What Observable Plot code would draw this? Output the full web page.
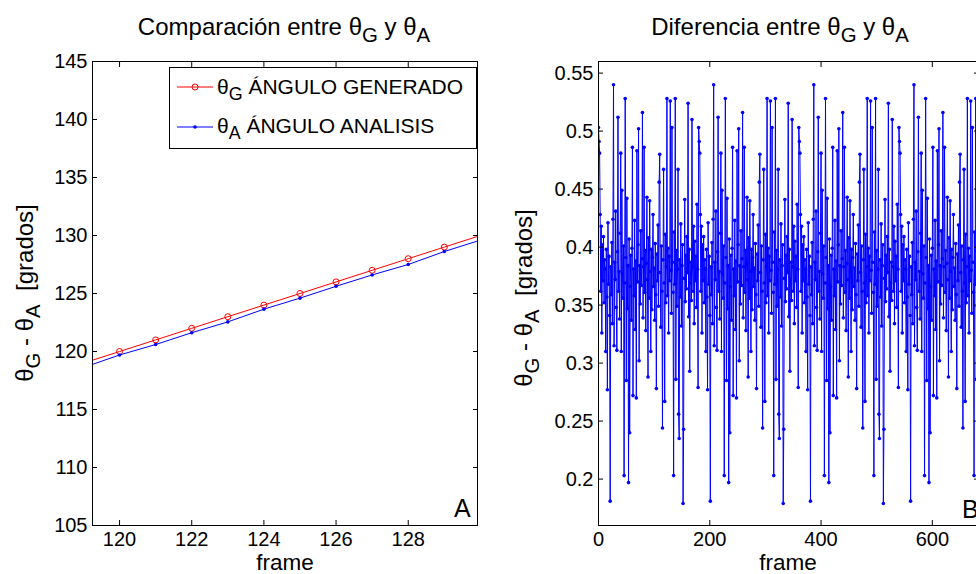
<!DOCTYPE html>
<html><head><meta charset="utf-8">
<script src="https://cdn.jsdelivr.net/npm/d3@7"></script>
<script src="https://cdn.jsdelivr.net/npm/@observablehq/plot@0.6"></script>
<style>
html,body{margin:0;padding:0;background:#fff;overflow:hidden;}
#wrap{position:relative;width:976px;height:574px;overflow:hidden;background:#fff;}
#wrap svg{position:absolute;top:0;}
</style></head><body><div id="wrap"></div>
<script>
const FONT = '"Liberation Sans", Arial, Helvetica, sans-serif';

// ---- Panel A data ----
const framesA = [119,120,121,122,123,124,125,126,127,128,129,130];
const thetaG  = [119,120,121,122,123,124,125,126,127,128,129,130];
const thetaA  = [118.62,119.70,120.60,121.62,122.55,123.65,124.60,125.62,126.60,127.50,128.62,129.60];
const xTicksA = [120,122,124,126,128];
const yTicksA = [105,110,115,120,125,130,135,140,145];

// ---- Panel B data (difference per frame, frames 0..683) ----
const diffBlock1 = [
0.503,0.491,0.481,0.428,0.362,0.418,0.326,0.402,0.371,0.409,
0.352,0.389,0.381,0.310,0.398,0.357,0.277,0.421,0.368,0.392,
0.341,0.181,0.383,0.359,0.404,0.334,0.424,0.540,0.315,0.387,
0.372,0.431,0.348,0.311,0.396,0.512,0.362,0.379,0.338,0.412,
0.481,0.310,0.449,0.377,0.356,0.401,0.203,0.369,0.528,0.391,
0.285,0.442,0.347,0.384,0.197,0.407,0.240,0.366,0.393,0.337,
0.399,0.486,0.272,0.381,0.358,0.423,0.329,0.388,0.270,0.483,
0.370,0.402,0.502,0.302,0.384,0.351,0.414,0.367,0.390,0.516,
0.339,0.383,0.486,0.361,0.397,0.328,0.386,0.443,0.372,0.288,
0.408,0.356,0.440,0.379,0.310,0.398,0.346,0.391,0.428,0.366,
0.382,0.337,0.403,0.359,0.278,0.394,0.371,0.419,0.349,0.456,
0.480,0.378,0.331,0.401,0.362,0.244,0.389,0.467,0.369,0.267,
0.411,0.352,0.383,0.528,0.358,0.399,0.326,0.392,0.371,0.526,
0.380,0.343,0.503,0.387,0.361,0.203,0.413,0.368,0.528,0.286,
0.397,0.349,0.381,0.467,0.256,0.235,0.389,0.357,0.420,0.332,
0.384,0.402,0.179,0.243,0.373,0.441,0.353,0.393,0.364,0.409,
0.378,0.524,0.340,0.398,0.293,0.369,0.387,0.354,0.510,0.383,
0.362,0.418,0.334,0.405,0.371,0.392,0.348,0.437,0.381,0.279];
const diffBlock2 = [
0.503,0.491,0.481,0.428,0.362,0.418,0.326,0.402,0.371,0.409,
0.352,0.389,0.381,0.310,0.398,0.357,0.277,0.421,0.368,0.392,
0.341,0.181,0.383,0.359,0.404,0.334,0.424,0.540,0.315,0.387,
0.372,0.431,0.348,0.311,0.396,0.512,0.362,0.379,0.338,0.412,
0.481,0.310,0.449,0.377,0.356,0.401,0.203,0.369,0.528,0.391,
0.285,0.442,0.347,0.384,0.197,0.407,0.240,0.366,0.393,0.337,
0.399,0.486,0.272,0.381,0.358,0.423,0.329,0.388,0.270,0.483,
0.370,0.402,0.502,0.302,0.384,0.351,0.414,0.367,0.390,0.516,
0.339,0.383,0.486,0.361,0.397,0.328,0.386,0.443,0.372,0.288,
0.408,0.356,0.440,0.379,0.310,0.398,0.346,0.391,0.428,0.366,
0.382,0.337,0.403,0.359,0.278,0.394,0.371,0.419,0.349,0.456,
0.480,0.378,0.331,0.401,0.362,0.244,0.389,0.467,0.369,0.267,
0.411,0.352,0.383,0.528,0.358,0.399,0.326,0.392,0.371,0.526,
0.380,0.343,0.503,0.387,0.361,0.203,0.413,0.368,0.528,0.286,
0.397,0.349,0.381,0.467,0.256,0.235,0.389,0.357,0.420,0.332,
0.384,0.402,0.179,0.243,0.373,0.441,0.353,0.393,0.364,0.409,
0.378,0.524,0.340,0.398,0.293,0.369,0.387,0.354,0.510,0.383,
0.362,0.418,0.334,0.405,0.371,0.392,0.348,0.437,0.381,0.279];
const diffBlock3 = [
0.503,0.491,0.481,0.428,0.362,0.418,0.326,0.402,0.371,0.409,
0.352,0.389,0.381,0.310,0.398,0.357,0.277,0.421,0.368,0.392,
0.341,0.181,0.383,0.359,0.404,0.334,0.424,0.540,0.315,0.387,
0.372,0.431,0.348,0.311,0.396,0.512,0.362,0.379,0.338,0.412,
0.481,0.310,0.449,0.377,0.356,0.401,0.203,0.369,0.528,0.391,
0.285,0.442,0.347,0.384,0.197,0.407,0.240,0.366,0.393,0.337,
0.399,0.486,0.272,0.381,0.358,0.423,0.329,0.388,0.270,0.483,
0.370,0.402,0.502,0.302,0.384,0.351,0.414,0.367,0.390,0.516,
0.339,0.383,0.486,0.361,0.397,0.328,0.386,0.443,0.372,0.288,
0.408,0.356,0.440,0.379,0.310,0.398,0.346,0.391,0.428,0.366,
0.382,0.337,0.403,0.359,0.278,0.394,0.371,0.419,0.349,0.456,
0.480,0.378,0.331,0.401,0.362,0.244,0.389,0.467,0.369,0.267,
0.411,0.352,0.383,0.528,0.358,0.399,0.326,0.392,0.371,0.526,
0.380,0.343,0.503,0.387,0.361,0.203,0.413,0.368,0.528,0.286,
0.397,0.349,0.381,0.467,0.256,0.235,0.389,0.357,0.420,0.332,
0.384,0.402,0.179,0.243,0.373,0.441,0.353,0.393,0.364,0.409,
0.378,0.524,0.340,0.398,0.293,0.369,0.387,0.354,0.510,0.383,
0.362,0.418,0.334,0.405,0.371,0.392,0.348,0.437,0.381,0.279];
const diffBlock4 = [
0.503,0.491,0.481,0.428,0.362,0.418,0.326,0.402,0.371,0.409,
0.352,0.389,0.381,0.310,0.398,0.357,0.277,0.421,0.368,0.392,
0.341,0.181,0.383,0.359,0.404,0.334,0.424,0.540,0.315,0.387,
0.372,0.431,0.348,0.311,0.396,0.512,0.362,0.379,0.338,0.412,
0.481,0.310,0.449,0.377,0.356,0.401,0.203,0.369,0.528,0.391,
0.285,0.442,0.347,0.384,0.197,0.407,0.240,0.366,0.393,0.337,
0.399,0.486,0.272,0.381,0.358,0.423,0.329,0.388,0.270,0.483,
0.370,0.402,0.502,0.302,0.384,0.351,0.414,0.367,0.390,0.516,
0.339,0.383,0.486,0.361,0.397,0.328,0.386,0.443,0.372,0.288,
0.408,0.356,0.440,0.379,0.310,0.398,0.346,0.391,0.428,0.366,
0.382,0.337,0.403,0.359,0.278,0.394,0.371,0.419,0.349,0.456,
0.480,0.378,0.331,0.401,0.362,0.244,0.389,0.467,0.369,0.267,
0.411,0.352,0.383,0.528,0.358,0.399,0.326,0.392,0.371,0.526,
0.380,0.343,0.503,0.387,0.361,0.203,0.413,0.368,0.528,0.286,
0.397,0.349,0.381,0.467];
const diffValues = [...diffBlock1, ...diffBlock2, ...diffBlock3, ...diffBlock4];
const xTicksB = [0,200,400,600];
const yTicksB = [0.2,0.25,0.3,0.35,0.4,0.45,0.5,0.55];

const RED = "#ff0000", BLUE = "#0000ff";

function frameAxes(xTicks, yTicks, fmtY) {
  return [
    Plot.axisX(xTicks, {anchor: "bottom", tickSize: -5, tickPadding: 11.5, fontSize: 20, label: null, stroke: "#000", fill: "#000"}),
    Plot.axisX(xTicks, {anchor: "top", tickSize: -5, tickFormat: () => "", label: null, stroke: "#000"}),
    Plot.axisY(yTicks, {anchor: "left", tickSize: -5, tickPadding: 10, fontSize: 20, tickFormat: fmtY, label: null, stroke: "#000", fill: "#000"}),
    Plot.axisY(yTicks, {anchor: "right", tickSize: -5, tickFormat: () => "", label: null, stroke: "#000"}),
    Plot.frame({stroke: "#000", strokeWidth: 1})
  ];
}

function richText(svg, {x, y, rotate = 0, anchor = "middle", size = 20, parts}) {
  const t = d3.select(svg).append("text")
    .attr("transform", `translate(${x},${y}) rotate(${rotate})`)
    .attr("text-anchor", anchor)
    .attr("font-size", size)
    .attr("font-family", FONT)
    .attr("fill", "#000")
    .style("white-space", "pre");
  let shift = 0;
  for (const [s, sub] of parts) {
    const want = sub ? Math.round(size * 0.3) : 0;
    t.append("tspan").attr("dy", want - shift).attr("font-size", sub ? size * 0.85 : size).text(s);
    shift = want;
  }
  return t;
}

const wrap = document.getElementById("wrap");

// ---------- Panel A ----------
const plotA = Plot.plot({
  width: 490, height: 574,
  marginLeft: 92, marginRight: 13, marginTop: 61, marginBottom: 49,
  style: {fontFamily: FONT, fontSize: "20px", color: "#000", background: "transparent", overflow: "visible"},
  x: {domain: [119.25, 129.92]},
  y: {domain: [105, 145]},
  marks: [
    Plot.line(framesA, {x: framesA, y: thetaG, stroke: RED, strokeWidth: 1, clip: true}),
    Plot.dot(framesA, {x: framesA, y: thetaG, r: 3, stroke: RED, strokeWidth: 1, fill: "none", clip: true}),
    Plot.line(framesA, {x: framesA, y: thetaA, stroke: BLUE, strokeWidth: 1, clip: true}),
    Plot.dot(framesA, {x: framesA, y: thetaA, r: 1.8, fill: BLUE, clip: true}),
    ...frameAxes(xTicksA, yTicksA, d => String(d))
  ]
});
plotA.style.left = "0px";
wrap.appendChild(plotA);

richText(plotA, {x: 284, y: 35, size: 24, parts: [["Comparación entre θ"], ["G", true], [" y θ"], ["A", true]]});
richText(plotA, {x: 33, y: 293, rotate: -90, size: 24, parts: [["θ"], ["G", true], [" - θ"], ["A", true], ["  [grados]"]]});
richText(plotA, {x: 285, y: 569.5, size: 22.5, parts: [["frame"]]});
richText(plotA, {x: 454, y: 517, anchor: "start", size: 25, parts: [["A"]]});

// legend
const lg = d3.select(plotA).append("g");
lg.append("rect").attr("x", 169.5).attr("y", 67.5).attr("width", 307).attr("height", 81)
  .attr("fill", "#fff").attr("stroke", "#000").attr("stroke-width", 1);
lg.append("line").attr("x1", 177).attr("x2", 213).attr("y1", 87).attr("y2", 87).attr("stroke", RED);
lg.append("circle").attr("cx", 195).attr("cy", 87).attr("r", 3).attr("fill", "none").attr("stroke", RED);
lg.append("line").attr("x1", 177).attr("x2", 213).attr("y1", 127).attr("y2", 127).attr("stroke", BLUE);
lg.append("circle").attr("cx", 195).attr("cy", 127).attr("r", 1.8).attr("fill", BLUE);
richText(plotA, {x: 217, y: 94, anchor: "start", size: 21, parts: [["θ"], ["G", true], [" ÁNGULO GENERADO"]]});
richText(plotA, {x: 217, y: 133, anchor: "start", size: 21, parts: [["θ"], ["A", true], [" ÁNGULO ANALISIS"]]});

// ---------- Panel B ----------
const plotB = Plot.plot({
  width: 490, height: 574,
  marginLeft: 108, marginRight: 2, marginTop: 61, marginBottom: 49,
  style: {fontFamily: FONT, fontSize: "20px", color: "#000", background: "transparent", overflow: "visible"},
  x: {domain: [0, 683]},
  y: {domain: [0.16, 0.56]},
  marks: [
    Plot.line(diffValues, {x: (d, i) => i, y: d => d, stroke: BLUE, strokeWidth: 1, clip: true}),
    Plot.dot(diffValues, {x: (d, i) => i, y: d => d, r: 1.8, fill: BLUE, clip: true}),
    ...frameAxes(xTicksB, yTicksB, d => String(Math.round(d * 100) / 100))
  ]
});
plotB.style.left = "490px";
wrap.appendChild(plotB);

richText(plotB, {x: 290, y: 35, size: 24, parts: [["Diferencia entre θ"], ["G", true], [" y θ"], ["A", true]]});
richText(plotB, {x: 42, y: 298, rotate: -90, size: 24, parts: [["θ"], ["G", true], [" - θ"], ["A", true], ["  [grados]"]]});
richText(plotB, {x: 298, y: 569.5, size: 22.5, parts: [["frame"]]});
richText(plotB, {x: 472, y: 518, anchor: "start", size: 25, parts: [["B"]]});
</script>
</body></html>
